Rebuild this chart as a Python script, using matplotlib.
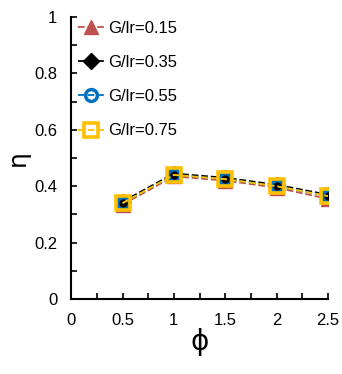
import matplotlib
matplotlib.use("Agg")
import matplotlib.pyplot as plt
from matplotlib.ticker import MultipleLocator

phi = [0.5, 1.0, 1.5, 2.0, 2.5]
eta_015 = [0.335, 0.435, 0.42, 0.395, 0.355]
eta_035 = [0.345, 0.445, 0.43, 0.405, 0.37]
eta_055 = [0.34, 0.44, 0.425, 0.40, 0.365]
eta_075 = [0.34, 0.44, 0.425, 0.40, 0.365]
labels = ["G/lr=0.15", "G/lr=0.35", "G/lr=0.55", "G/lr=0.75"]

plt.rcParams['font.family'] = ['Liberation Sans', 'DejaVu Sans']

fig = plt.figure(figsize=(3.42, 3.74), dpi=100)
ax = fig.add_axes([0.208, 0.2005, 0.751, 0.754])

ax.plot(phi, eta_015, '--', color='#C0504D', marker='^', markersize=10,
        markerfacecolor='#C0504D', markeredgecolor='#C0504D', lw=1.3, label=labels[0])
ax.plot(phi, eta_035, '--', color='black', marker='D', markersize=8.5,
        markerfacecolor='black', markeredgecolor='black', lw=1.3, label=labels[1])
ax.plot(phi, eta_055, '--', color='#0070C0', marker='o', markersize=8.5,
        markerfacecolor='none', markeredgecolor='#0070C0', markeredgewidth=2.5, lw=1.3, label=labels[2])
ax.plot(phi, eta_075, '--', color='#FFC000', marker='s', markersize=10.5,
        markerfacecolor='none', markeredgecolor='#FFC000', markeredgewidth=2.6, lw=1.3, label=labels[3])

ax.set_xlim(0, 2.5)
ax.set_ylim(0, 1)
ax.xaxis.set_major_locator(MultipleLocator(0.5))
ax.xaxis.set_minor_locator(MultipleLocator(0.25))
ax.yaxis.set_major_locator(MultipleLocator(0.2))
ax.yaxis.set_minor_locator(MultipleLocator(0.1))
ax.xaxis.set_major_formatter(plt.FuncFormatter(lambda v, p: ('%g' % v)))
ax.yaxis.set_major_formatter(plt.FuncFormatter(lambda v, p: ('%g' % v)))
ax.tick_params(which='both', direction='in', length=4, width=1.2, labelsize=12, pad=10)
for s in ['top', 'right']:
    ax.spines[s].set_visible(False)
for s in ['left', 'bottom']:
    ax.spines[s].set_linewidth(1.5)

ax.set_xlabel('ϕ', fontsize=20, labelpad=0, family='DejaVu Sans')
ax.set_ylabel('η', fontsize=18, labelpad=3, family='DejaVu Sans')

leg = ax.legend(loc='upper left', frameon=False, fontsize=12, handlelength=1.6,
                handletextpad=0.2, labelspacing=1.15, borderaxespad=0.0,
                bbox_to_anchor=(0.0, 1.01))

fig.savefig('out.png', dpi=100)
